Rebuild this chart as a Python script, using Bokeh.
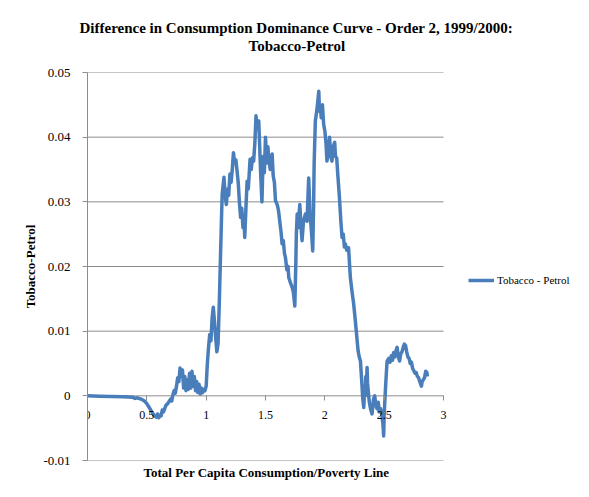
import math
from bokeh.plotting import figure
from bokeh.models import (FixedTicker, Legend, LegendItem, Title, Range1d)
from bokeh.embed import file_html
from bokeh.resources import INLINE

# ---- data ----
ratio = [0, 0.1, 0.2, 0.3, 0.38, 0.4, 0.42, 0.45,
         0.48, 0.5, 0.52, 0.54, 0.56, 0.58, 0.59, 0.6, 0.61, 0.62, 0.63, 0.64, 0.66, 0.68, 0.70, 0.71,
         0.72, 0.73, 0.74, 0.75, 0.76, 0.77, 0.78, 0.79, 0.80, 0.81, 0.82, 0.83, 0.84, 0.85, 0.86, 0.87,
         0.88, 0.89, 0.90, 0.91, 0.92, 0.93, 0.94, 0.95, 0.96, 0.97, 0.98, 0.99, 1.0, 1.01, 1.02, 1.03,
         1.04, 1.05, 1.06, 1.07, 1.08, 1.09, 1.10, 1.11, 1.12, 1.13, 1.135, 1.15, 1.16, 1.17, 1.18, 1.19,
         1.20, 1.21, 1.22, 1.23, 1.24, 1.25, 1.26, 1.27, 1.28, 1.29, 1.30, 1.31, 1.32, 1.325, 1.335, 1.345,
         1.355, 1.37, 1.38, 1.39, 1.40, 1.41, 1.42, 1.43, 1.443, 1.45, 1.46, 1.47, 1.48, 1.49, 1.50, 1.51,
         1.52, 1.527, 1.54, 1.556, 1.565, 1.575, 1.584, 1.60, 1.61, 1.62, 1.63, 1.64, 1.65, 1.66, 1.668,
         1.68, 1.69, 1.696, 1.71, 1.724, 1.735, 1.747, 1.755, 1.76, 1.767, 1.775, 1.789, 1.80, 1.808, 1.82,
         1.836, 1.85, 1.864, 1.875, 1.885, 1.898, 1.905, 1.91, 1.92, 1.935, 1.949, 1.955, 1.963, 1.97, 1.98,
         1.99, 2.00, 2.01, 2.018, 2.03, 2.04, 2.05, 2.06, 2.07, 2.083, 2.09, 2.10, 2.11, 2.123, 2.135, 2.145,
         2.155, 2.165, 2.173, 2.185, 2.2, 2.215, 2.23, 2.243, 2.255, 2.27, 2.28, 2.29, 2.30, 2.31, 2.32,
         2.328, 2.335, 2.34, 2.345, 2.35, 2.356, 2.36, 2.368, 2.375, 2.385, 2.398, 2.41, 2.42, 2.43, 2.44,
         2.45, 2.46, 2.47, 2.48, 2.49, 2.496, 2.50, 2.51, 2.52, 2.525, 2.54, 2.55, 2.56, 2.57, 2.58, 2.59,
         2.60, 2.609, 2.62, 2.63, 2.64, 2.65, 2.66, 2.67, 2.68, 2.69, 2.70, 2.71, 2.72, 2.73, 2.74, 2.75,
         2.76, 2.77, 2.78, 2.79, 2.80, 2.814, 2.82, 2.83, 2.84, 2.85, 2.86, 2.865]
diff = [0, -0.00005, -0.0001, -0.00015, -0.0002, -0.0004, -0.0003, -0.0005,
        -0.0008, -0.0012, -0.0018, -0.0024, -0.0030, -0.0033, -0.0028, -0.0034, -0.0030, -0.0031, -0.0022, -0.0025, -0.0015, -0.0011, -0.0005, -0.0008,
        0.0002, 0.0008, 0.0004, 0.0015, 0.0028, 0.0022, 0.0043, 0.0030, 0.0040, 0.0012, 0.0030, 0.0008, 0.0025, 0.0010, 0.0035, 0.0012,
        0.0038, 0.0015, 0.0030, 0.0008, 0.0022, 0.0005, 0.0018, 0.0003, 0.0012, 0.0005, 0.0010, 0.0008, 0.0015, 0.0050, 0.0075, 0.0095,
        0.0085, 0.0120, 0.0137, 0.0115, 0.0090, 0.0068, 0.0080, 0.0140, 0.0210, 0.0280, 0.0312, 0.0338, 0.0310, 0.0296, 0.0320, 0.0310,
        0.0343, 0.0330, 0.0350, 0.0376, 0.0360, 0.0365, 0.0348, 0.0330, 0.0300, 0.0276, 0.0290, 0.0260, 0.0270, 0.0245, 0.0290, 0.0332,
        0.0320, 0.0366, 0.0350, 0.0368, 0.0363, 0.0390, 0.0433, 0.0415, 0.0425, 0.0390, 0.0340, 0.0300, 0.0370, 0.0345, 0.0400, 0.0360,
        0.0385, 0.0368, 0.0350, 0.0374, 0.0340, 0.0330, 0.0302, 0.0295, 0.0286, 0.0270, 0.0255, 0.0235, 0.0240, 0.0220, 0.0214,
        0.0195, 0.0200, 0.0183, 0.0175, 0.0168, 0.0160, 0.0139, 0.0200, 0.0250, 0.0281, 0.0260, 0.0296, 0.0260, 0.0240, 0.0270,
        0.0281, 0.0270, 0.0337, 0.0281, 0.0260, 0.0224, 0.0290, 0.0360, 0.0425, 0.0445, 0.0471, 0.0440, 0.0445, 0.0430, 0.0450,
        0.0420, 0.0410, 0.0390, 0.0363, 0.0380, 0.0400, 0.0370, 0.0363, 0.0385, 0.0392, 0.0370, 0.0368, 0.0340, 0.0307, 0.0270, 0.0245,
        0.0250, 0.0230, 0.0235, 0.0225, 0.0229, 0.0183, 0.0160, 0.0142, 0.0120, 0.0090, 0.0070, 0.0060, 0.0054, 0.0025, -0.0005,
        -0.0018, 0.0010, 0.0000, 0.0030, 0.0010, 0.0044, 0.0020, 0.0003, -0.0010, -0.0020, -0.0028, -0.0005, 0.0000, -0.0015, -0.0020,
        -0.0010, -0.0025, -0.0020, -0.0028, -0.0045, -0.0062, -0.0030, 0.0008, 0.0040, 0.0054, 0.0058, 0.0052, 0.0062, 0.0055, 0.0067, 0.0060,
        0.0070, 0.0075, 0.0060, 0.0054, 0.0065, 0.0068, 0.0075, 0.0080, 0.0078, 0.0068, 0.0060, 0.0058, 0.0050, 0.0052, 0.0042, 0.0039,
        0.0035, 0.0036, 0.0030, 0.0028, 0.0022, 0.0015, 0.0022, 0.0025, 0.0028, 0.0038, 0.0036, 0.0030]

x_ticks = [0, 0.5, 1, 1.5, 2, 2.5, 3]
x_tick_labels = ["0", "0.5", "1", "1.5", "2", "2.5", "3"]
y_ticks = [-0.01, 0, 0.01, 0.02, 0.03, 0.04, 0.05]
y_tick_labels = ["-0.01", "0", "0.01", "0.02", "0.03", "0.04", "0.05"]

title_line1 = "Difference in Consumption Dominance Curve - Order 2, 1999/2000:"
title_line2 = "Tobacco-Petrol"
series_name = "Tobacco - Petrol"
x_label = "Total Per Capita Consumption/Poverty Line"
y_label = "Tobacco-Petrol"

FONT = "Liberation Serif"
BLUE = "#4A7EBB"
GRID = "#8C8C8C"

# layout: plot area 356 px wide for the 0..3 axis; the frame continues to the right
# (empty) so the legend and the wide title can sit there.
W, H = 585, 495
LEFT, RIGHT, TOP, BOTTOM = 87, 5, 72, 35
axis_px = 356
frame_px = W - LEFT - RIGHT
x_max = x_ticks[-1] * frame_px / axis_px

p = figure(width=W, height=H, output_backend="svg", toolbar_location=None,
           x_range=Range1d(x_ticks[0], x_max), y_range=Range1d(y_ticks[0], y_ticks[-1]),
           min_border_left=LEFT, min_border_right=RIGHT, min_border_top=TOP,
           min_border_bottom=BOTTOM)
p.outline_line_color = None
p.background_fill_color = "white"
p.border_fill_color = "white"

# y axis
p.yaxis.ticker = FixedTicker(ticks=y_ticks)
p.yaxis.major_label_overrides = {t: l for t, l in zip(y_ticks, y_tick_labels)}
p.yaxis.axis_line_color = GRID
p.yaxis.major_tick_line_color = GRID
p.yaxis.major_tick_out = 5
p.yaxis.major_tick_in = 0
p.yaxis.minor_tick_line_color = None
p.yaxis.major_label_text_font = FONT
p.yaxis.major_label_text_font_size = "13px"
p.yaxis.major_label_text_color = "black"
p.yaxis.major_label_standoff = 12
p.yaxis.axis_label = y_label
p.yaxis.axis_label_text_font = FONT
p.yaxis.axis_label_text_font_size = "13px"
p.yaxis.axis_label_text_font_style = "bold"
p.yaxis.axis_label_text_color = "black"
p.yaxis.axis_label_standoff = 2

# x axis crossing at y = 0
p.xaxis.fixed_location = 0
p.xaxis.ticker = FixedTicker(ticks=x_ticks)
p.xaxis.major_label_overrides = {t: l for t, l in zip(x_ticks, x_tick_labels)}
p.xaxis.axis_line_color = None
p.xaxis.major_tick_line_color = GRID
p.xaxis.major_tick_out = 5
p.xaxis.major_tick_in = 0
p.xaxis.minor_tick_line_color = None
p.xaxis.major_label_text_font = FONT
p.xaxis.major_label_text_font_size = "12px"
p.xaxis.major_label_text_color = "black"
p.xaxis.major_label_standoff = 10

# horizontal gridlines over the 0..3 plot area only
p.xgrid.visible = False
p.ygrid.visible = False
n = len(y_ticks)
p.segment(x0=[x_ticks[0]] * n, x1=[x_ticks[-1]] * n, y0=y_ticks, y1=y_ticks,
          line_color=GRID, line_width=1)

line = p.line(ratio, diff, line_color=BLUE, line_width=3.5, line_join="round")

legend = Legend(items=[LegendItem(label=series_name, renderers=[line])],
                location=(381, 172), padding=0, margin=0, border_line_color=None,
                background_fill_alpha=0, glyph_width=26, glyph_height=16,
                label_standoff=3, label_text_font=FONT, label_text_font_size="11px",
                label_text_color="black", label_height=16)
p.add_layout(legend, "center")

# x axis title below the plot
p.add_layout(Title(text=x_label, align="left", offset=56, text_font=FONT,
                   text_font_size="13px", text_font_style="bold", text_color="black",
                   vertical_align="top", standoff=8), "below")

# two-line chart title: first line is the figure title (outermost); the panel list
# runs outward from the plot area, so the blank spacer goes in first
p.title.text = title_line1
p.title.align = "left"
p.title.offset = -8
p.title.text_font = FONT
p.title.text_font_size = "15px"
p.title.text_font_style = "bold"
p.title.text_color = "black"
p.title.standoff = 0
p.add_layout(Title(text=" ", text_font=FONT, text_font_size="15px", standoff=1), "above")
p.add_layout(Title(text=title_line2, align="left", offset=161, text_font=FONT,
                   text_font_size="15px", text_font_style="bold", text_color="black",
                   standoff=0), "above")

open("out.html", "w").write(file_html(p, INLINE))
